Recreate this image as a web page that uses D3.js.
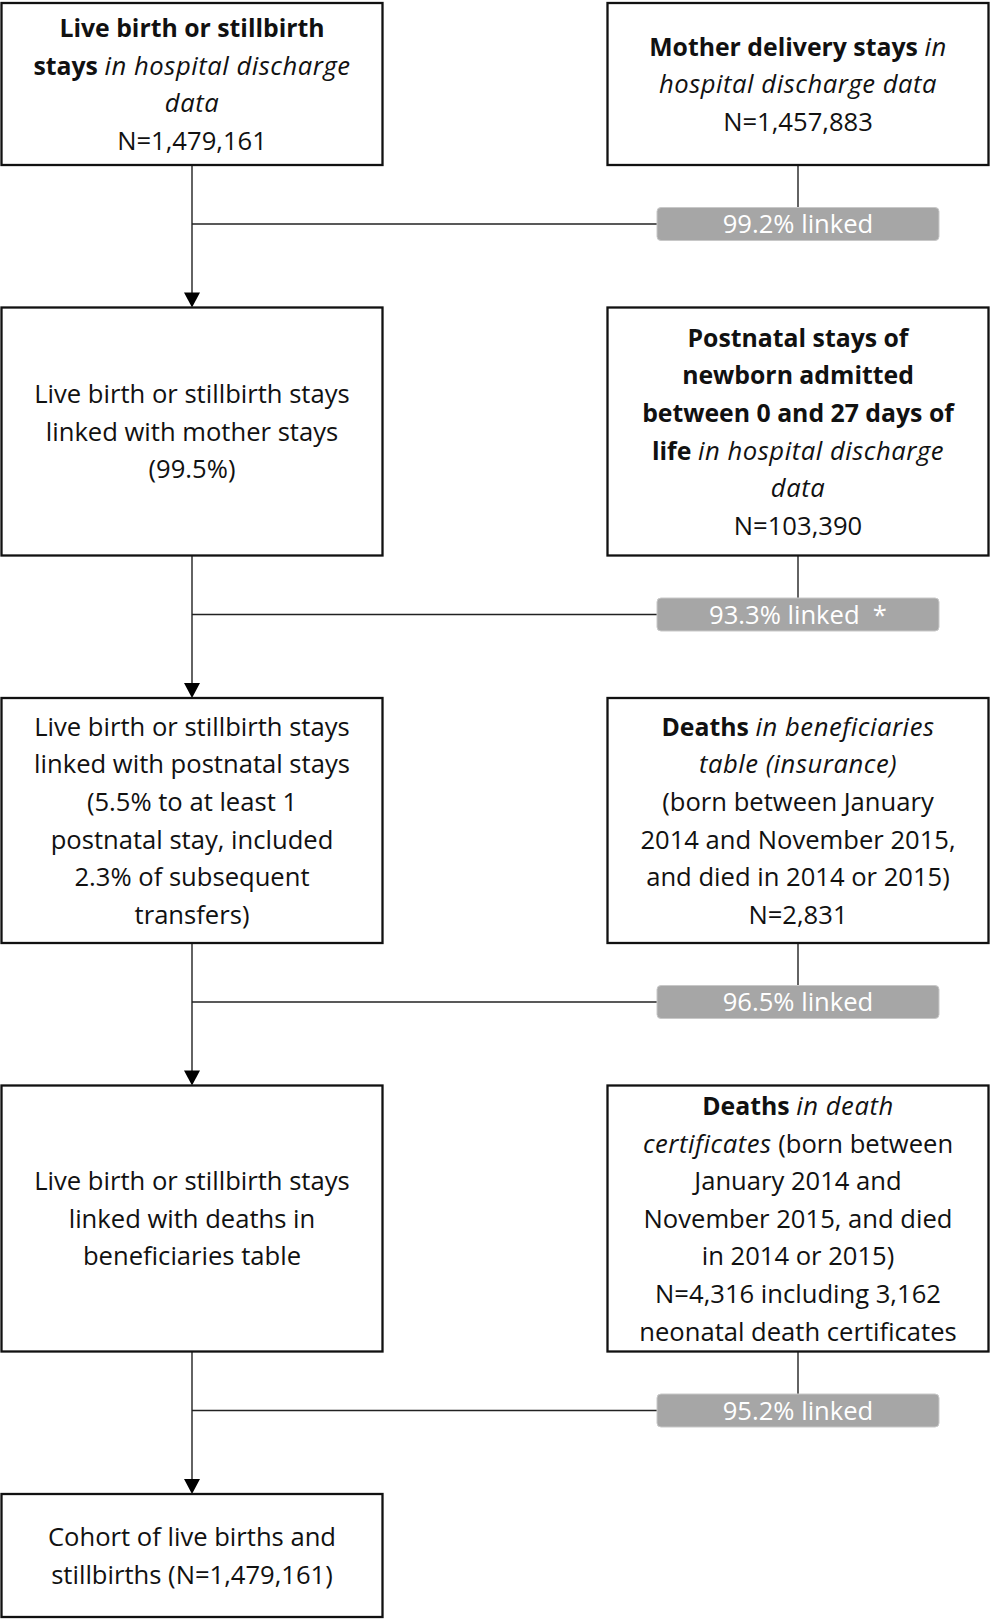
<!DOCTYPE html>
<html>
<head>
<meta charset="utf-8">
<script src="https://cdn.jsdelivr.net/npm/d3@7/dist/d3.min.js"></script>
<style>
  body { margin: 0; background: #fff; }
  svg text { font-family: "Open Sans", "Noto Sans", sans-serif; }
</style>
</head>
<body>
<svg id="chart" width="990" height="1619"></svg>
<script>
// **bold**  _italic_
const leftBoxes = [
    ["**Live birth or stillbirth**", "**stays** _in hospital discharge_", "_data_", "N=1,479,161"],
    ["Live birth or stillbirth stays", "linked with mother stays", "(99.5%)"],
    ["Live birth or stillbirth stays", "linked with postnatal stays", "(5.5% to at least 1", "postnatal stay, included", "2.3% of subsequent", "transfers)"],
    ["Live birth or stillbirth stays", "linked with deaths in", "beneficiaries table"],
    ["Cohort of live births and", "stillbirths (N=1,479,161)"]
]
const rightBoxes = [
    ["**Mother delivery stays** _in_", "_hospital discharge data_", "N=1,457,883"],
    ["**Postnatal stays of**", "**newborn admitted**", "**between 0 and 27 days of**", "**life** _in hospital discharge_", "_data_", "N=103,390"],
    ["**Deaths** _in beneficiaries_", "_table (insurance)_", "(born between January", "2014 and November 2015,", "and died in 2014 or 2015)", "N=2,831"],
    ["**Deaths** _in death_", "_certificates_ (born between", "January 2014 and", "November 2015, and died", "in 2014 or 2015)", "N=4,316 including 3,162", "neonatal death certificates"]
]
const linkLabels = ["99.2% linked", "93.3% linked  *", "96.5% linked", "95.2% linked"]

// layout
const rowHeights = [162, 248, 245, 266, 123]
const gap = 142.5
const boxW = 381
const lineH = 37.6

const svg = d3.select('#chart')

let tops = []
let acc = 3
rowHeights.forEach(function(h){
    tops.push(acc)
    acc += h + gap
})

const x = d3.scalePoint().domain(['left', 'right']).range([192, 798])

function parse(line){
    const parts = []
    const re = /\*\*(.+?)\*\*|_(.+?)_|([^*_]+)/g
    let m
    while ((m = re.exec(line)) !== null) {
        if (m[1]) parts.push({t: m[1], w: 'bold', s: 'normal', fs: 24.8, ls: 0})
        else if (m[2]) parts.push({t: m[2], w: 'normal', s: 'italic', fs: 25.6, ls: 0.55})
        else parts.push({t: m[3], w: 'normal', s: 'normal', fs: 25.6, ls: 0})
    }
    return parts
}

const boxes = []
leftBoxes.forEach(function(lines, i){ boxes.push({side: 'left', row: i, lines: lines}) })
rightBoxes.forEach(function(lines, i){ boxes.push({side: 'right', row: i, lines: lines}) })

// connectors
const lines = svg.append('g').attr('stroke', '#222').attr('stroke-width', 1.4)

// vertical arrows on the left
d3.range(leftBoxes.length - 1).forEach(function(i){
    const y0 = tops[i] + rowHeights[i]
    const y1 = tops[i + 1]
    lines.append('line')
        .attr('x1', x('left')).attr('x2', x('left'))
        .attr('y1', y0).attr('y2', y1 - 10)
    svg.append('path')
        .attr('d', d3.line()([[x('left') - 8, y1 - 15], [x('left') + 8, y1 - 15], [x('left'), y1]]) + 'Z')
        .attr('fill', '#000')
})

// badges
const badgeW = 282, badgeH = 33
linkLabels.forEach(function(label, i){
    const yb = tops[i] + rowHeights[i]
    const cy = yb + 59
    lines.append('line')
        .attr('x1', x('right')).attr('x2', x('right'))
        .attr('y1', yb).attr('y2', cy - badgeH / 2)
    lines.append('line')
        .attr('x1', x('left')).attr('x2', x('right') - badgeW / 2)
        .attr('y1', cy).attr('y2', cy)
    svg.append('rect')
        .attr('x', x('right') - badgeW / 2)
        .attr('y', cy - badgeH / 2)
        .attr('width', badgeW)
        .attr('height', badgeH)
        .attr('rx', 4)
        .attr('fill', '#a6a6a6')
        .attr('stroke', '#c8c8c8')
        .attr('stroke-width', 1)
    svg.append('text')
        .attr('x', x('right'))
        .attr('y', cy + 9)
        .attr('text-anchor', 'middle')
        .attr('fill', '#fff')
        .attr('font-size', 25.6)
        .style('white-space', 'pre')
        .text(label)
})

// boxes
const g = svg.selectAll('g.box')
    .data(boxes)
    .join('g')
    .attr('class', 'box')

g.append('rect')
    .attr('x', function(d){ return x(d.side) - boxW / 2 })
    .attr('y', function(d){ return tops[d.row] })
    .attr('width', boxW)
    .attr('height', function(d){ return rowHeights[d.row] })
    .attr('fill', '#fff')
    .attr('stroke', '#111')
    .attr('stroke-width', 2.3)

g.each(function(d){
    const cy = tops[d.row] + rowHeights[d.row] / 2
    const first = cy - (d.lines.length - 1) * lineH / 2
    const t = d3.select(this).selectAll('text')
        .data(d.lines)
        .join('text')
        .attr('x', x(d.side))
        .attr('y', function(l, i){ return first + i * lineH + 9.3 })
        .attr('text-anchor', 'middle')
        .attr('fill', '#111')
    t.selectAll('tspan')
        .data(function(l){ return parse(l) })
        .join('tspan')
        .attr('font-weight', function(p){ return p.w })
        .attr('font-style', function(p){ return p.s })
        .attr('font-size', function(p){ return p.fs })
        .attr('letter-spacing', function(p){ return p.ls })
        .text(function(p){ return p.t })
})
</script>
</body>
</html>
